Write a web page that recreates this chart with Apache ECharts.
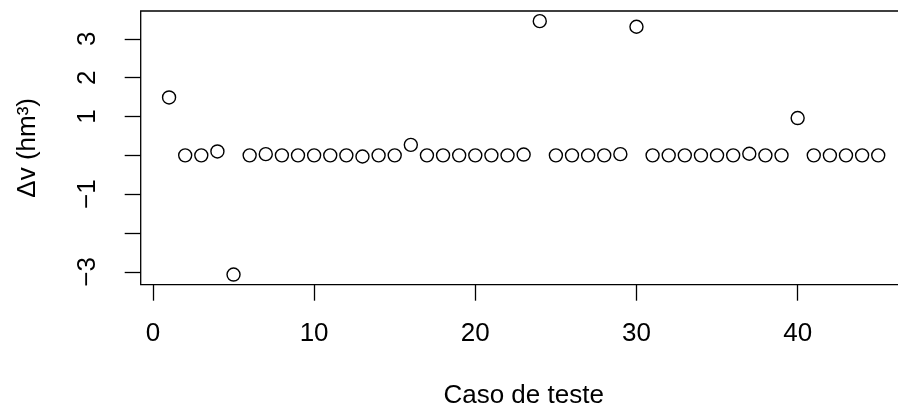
<!DOCTYPE html>
<html>
<head>
<meta charset="utf-8">
<title>Δv por caso de teste</title>
<script src="https://cdn.jsdelivr.net/npm/echarts@6/dist/echarts.min.js"></script>
<style>
  html, body { margin: 0; padding: 0; background: #fff; }
  #chart { width: 898px; height: 412px; }
</style>
</head>
<body>
<div id="chart"></div>
<script>
// Test cases (x) and volume difference per case (y, hm³)
const casos = [1, 2, 3, 4, 5, 6, 7, 8, 9, 10, 11, 12, 13, 14, 15, 16, 17, 18, 19, 20, 21, 22, 23,
               24, 25, 26, 27, 28, 29, 30, 31, 32, 33, 34, 35, 36, 37, 38, 39, 40, 41, 42, 43, 44, 45];
const deltaV = [1.49, 0, 0, 0.1, -3.07, 0, 0.03, 0, 0, 0, 0, 0, -0.03, 0, 0, 0.27, 0, 0, 0, 0, 0, 0, 0.02,
                3.455, 0, 0, 0, 0, 0.03, 3.31, 0, 0, 0, 0, 0, 0, 0.04, 0, 0, 0.96, 0, 0, 0, 0, 0];

// Axis ticks and the labels that are printed
const xTicks = [0, 10, 20, 30, 40];
const yTicks = [-3, -2, -1, 0, 1, 2, 3];
const yLabels = [-3, -1, 1, 2, 3];

const FONT = "'Liberation Sans', Arial, Helvetica, sans-serif";
const FS = 26;

// 4% padding on each side of the data range
function paddedRange(vals) {
  const lo = Math.min(...vals), hi = Math.max(...vals);
  const pad = (hi - lo) * 0.04;
  return [lo - pad, hi + pad];
}
const [xMin, xMax] = paddedRange(casos);
const [yMin, yMax] = paddedRange(deltaV);

const fmt = v => (v < 0 ? '\u2212' + Math.abs(v) : String(v));

const chart = echarts.init(document.getElementById('chart'), null, { renderer: 'canvas' });
chart.setOption({
  backgroundColor: '#ffffff',
  animation: false,
  textStyle: { fontFamily: FONT, color: '#000' },
  grid: {
    left: 140.7, right: -8.6, top: 11, bottom: 127.3,
    containLabel: false,
    outerBoundsMode: 'none',
    show: true,
    backgroundColor: 'transparent',
    borderColor: '#000',
    borderWidth: 1.3
  },
  xAxis: {
    type: 'value',
    min: xMin, max: xMax,
    splitLine: { show: false },
    axisLine: { show: false, onZero: false },
    axisTick: { show: true, length: 16, lineStyle: { color: '#000', width: 1.3 }, customValues: xTicks },
    axisLabel: { show: true, color: '#000', fontSize: FS, fontFamily: FONT, margin: 36, customValues: xTicks, formatter: fmt },
    name: 'Caso de teste',
    nameLocation: 'middle',
    nameGap: 98,
    nameTextStyle: { color: '#000', fontSize: FS, fontFamily: FONT }
  },
  yAxis: {
    type: 'value',
    min: yMin, max: yMax,
    splitLine: { show: false },
    axisLine: { show: false, onZero: false },
    axisTick: { show: true, length: 16, lineStyle: { color: '#000', width: 1.3 }, customValues: yTicks },
    axisLabel: { show: true, color: '#000', fontSize: FS, fontFamily: FONT, rotate: 90, margin: 40, customValues: yLabels, formatter: fmt },
    name: 'Δv (hm³)',
    nameLocation: 'middle',
    nameGap: 100,
    nameTextStyle: { color: '#000', fontSize: FS, fontFamily: FONT }
  },
  series: [{
    type: 'scatter',
    data: casos.map((c, i) => [c, deltaV[i]]),
    symbol: 'circle',
    symbolSize: 13,
    itemStyle: { color: 'rgba(255,255,255,0)', borderColor: '#000', borderWidth: 1.4, opacity: 1 },
    emphasis: { disabled: true }
  }]
});
</script>
</body>
</html>
